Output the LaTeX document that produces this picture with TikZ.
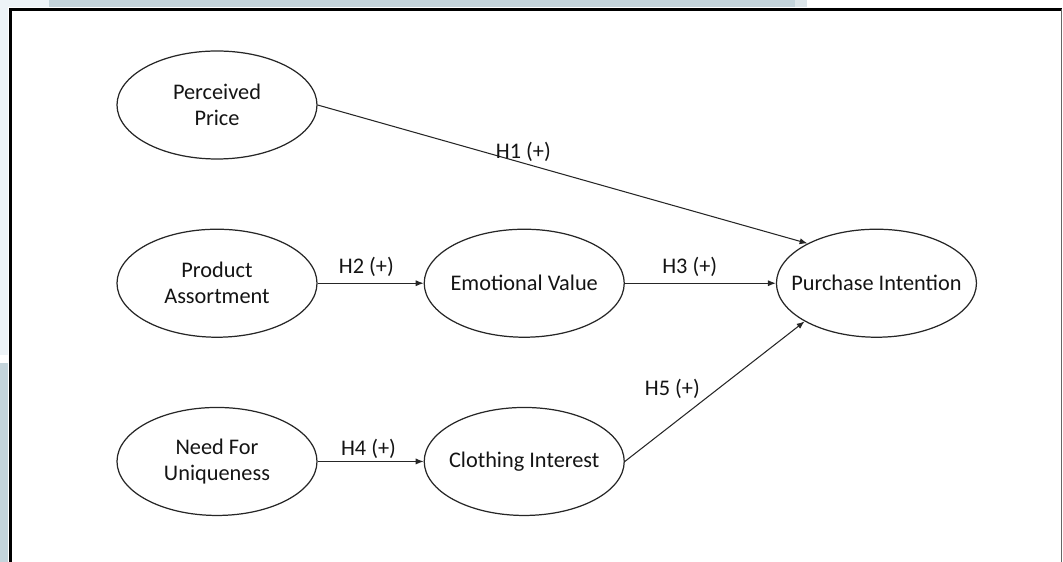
\documentclass[tikz,border=0pt]{standalone}
\usepackage{fontspec}
\setmainfont{Carlito}
\usetikzlibrary{arrows.meta, positioning, shapes.geometric}

\definecolor{bandgrey}{HTML}{C4D4DB}
\definecolor{bandlight}{HTML}{EDF3F7}

\begin{document}
\begin{tikzpicture}[
    construct/.style={ellipse, draw=black!85, line width=0.7pt, minimum width=4cm, minimum height=2.16cm, inner xsep=-10pt, inner ysep=0pt, align=center, text=black!92, font=\fontsize{12.7}{14.8}\selectfont},
    hyp/.style={-{Latex[length=4.5pt,width=3.5pt]}, line width=0.6pt, black!85},
    hlabel/.style={font=\fontsize{12.7}{14.8}\selectfont, text=black!92}
]

% page frame and background bands
\useasboundingbox (0,0) rectangle (21.26,-11.24);
\fill[bandlight] (0,0) rectangle (0.97,-0.15);
\fill[bandgrey] (0.97,0) rectangle (15.9,-0.15);
\fill[bandgrey!60] (15.9,0) rectangle (16.14,-0.15);
\fill[bandlight] (0,-0.15) rectangle (0.17,-7.1);
\fill[bandgrey] (0,-7.26) rectangle (0.17,-11.24);
\draw[line width=1.3pt] (0.21,-11.3) -- (0.21,-0.19) -- (21.23,-0.19);
\draw[black!60, line width=0.6pt] (21.23,-0.19) -- (21.23,-11.3);

% constructs
\node[construct] (pp) at (4.34,-2.1) {Perceived\\Price};
\node[construct] (pa) [below=1.38cm of pp] {Product\\Assortment};
\node[construct] (nfu) [below=1.38cm of pa] {Need For\\Uniqueness};
\node[construct] (ev) [right=2.12cm of pa] {Emotional Value};
\node[construct] (ci) [right=2.12cm of nfu] {Clothing Interest};
\node[construct] (pint) [right=3.02cm of ev] {Purchase Intention};

% hypotheses
\draw[hyp] (pp.east) -- (pint.150) node[hlabel, pos=0.42, above, inner sep=0.5pt] {H1 (+)};
\draw[hyp] (pa.east) -- (ev.west) node[hlabel, pos=0.46, above] {H2 (+)};
\draw[hyp] (ev.east) -- (pint.west) node[hlabel, pos=0.43, above] {H3 (+)};
\draw[hyp] (nfu.east) -- (ci.west) node[hlabel, pos=0.48, above, inner sep=1.5pt] {H4 (+)};
\draw[hyp] (ci.east) -- (pint.208) node[hlabel, pos=0.43, above left, inner sep=1pt] {H5 (+)};

\end{tikzpicture}
\end{document}
